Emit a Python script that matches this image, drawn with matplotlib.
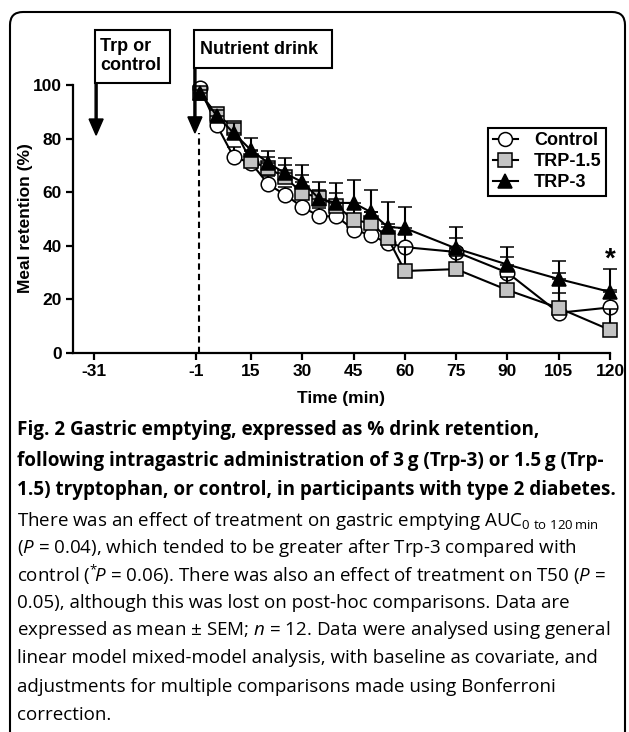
import numpy as np
import matplotlib
matplotlib.use("Agg")
import matplotlib.pyplot as plt
from matplotlib.patches import Rectangle, FancyBboxPatch
from matplotlib.lines import Line2D

plt.rcParams['font.family'] = ['Liberation Sans', 'DejaVu Sans']
plt.rcParams['axes.unicode_minus'] = False
plt.rcParams['mathtext.fontset'] = 'custom'
plt.rcParams['mathtext.rm'] = 'Open Sans'
plt.rcParams['mathtext.it'] = 'Open Sans:italic'
plt.rcParams['mathtext.bf'] = 'Open Sans:bold'

# time points (min) after the drink
time = [0, 5, 10, 15, 20, 25, 30, 35, 40, 45, 50, 55, 60, 75, 90, 105, 120]

# meal retention (%), mean
control = [99, 85, 73, 71, 63, 59, 54.5, 51, 51, 46, 44, 41, 39.5, 37.7, 30, 15, 17]
trp15 = [97, 89, 84, 71.5, 69, 65.5, 59.7, 58, 55, 49.6, 48.5, 43, 30.6, 31.3, 23.5, 16.8, 8.6]
trp3 = [97, 88.5, 82, 75.7, 71, 67, 63.8, 57.5, 56, 56, 52.6, 47, 46.6, 39, 33, 27.6, 22.8]

# SEM (upper bars only)
sem_control = [1, 1.5, 4, 3, 3, 3, 3, 3, 3, 3, 3, 3, 5, 5.3, 6, 7.4, 6.5]
sem_trp15 = [1, 2, 2, 4, 4, 4.5, 6.7, 3, 4.7, 4, 4, 5, 9, 5, 5, 13.2, 8]
sem_trp3 = [1, 2, 4, 4.5, 4.4, 5.7, 6.2, 6.3, 7.4, 8.5, 8.2, 9.3, 7.9, 8, 6.5, 6.7, 8.5]

xticks = [-31, -1, 15, 30, 45, 60, 75, 90, 105, 120]
yticks = [0, 20, 40, 60, 80, 100]

caption_bold = [
    "Fig. 2 Gastric emptying, expressed as % drink retention,",
    "following intragastric administration of 3\u2009g (Trp-3) or 1.5\u2009g (Trp-",
    "1.5) tryptophan, or control, in participants with type 2 diabetes.",
]
caption_normal = [
    r"There was an effect of treatment on gastric emptying AUC$_{\mathrm{0\ to\ 120\,min}}$",
    r"($P$ = 0.04), which tended to be greater after Trp-3 compared with",
    r"control ($^{*}\!P$ = 0.06). There was also an effect of treatment on T50 ($P$ =",
    "0.05), although this was lost on post-hoc comparisons. Data are",
    r"expressed as mean ± SEM; $n$ = 12. Data were analysed using general",
    "linear model mixed-model analysis, with baseline as covariate, and",
    "adjustments for multiple comparisons made using Bonferroni",
    "correction.",
]

fig = plt.figure(figsize=(6.29, 7.32), dpi=100)

# rounded frame around the figure panel
frame = FancyBboxPatch((0.10, -0.3), 6.15, 7.50, boxstyle="round,pad=0,rounding_size=0.13",
                       transform=fig.dpi_scale_trans, fc='none', ec='black', lw=1.5)
fig.patches.append(frame)

ax = fig.add_axes([73 / 629, 1 - 353 / 732, 537 / 629, 268 / 732])

series = [
    (control, sem_control, 'o', 'white', "Control", 3),
    (trp15, sem_trp15, 's', '#c3c3c3', "TRP-1.5", 4),
    (trp3, sem_trp3, '^', 'black', "TRP-3", 5),
]
handles = []
for vals, sem, mk, fc, lab, z in series:
    cont = ax.errorbar(time, vals, yerr=[np.zeros(len(sem)), sem], fmt='-', marker=mk,
                       color='black', mfc=fc, mec='black', mew=1.1, ms=10.5, lw=1.5,
                       elinewidth=1.5, capsize=5, capthick=1.5, zorder=z)
    for art in cont.get_children():
        art.set_clip_on(False)
    handles.append(Line2D([], [], color='black', marker=mk, mfc=fc, mec='black',
                          mew=1.1, ms=10, lw=1.5, label=lab))

ax.set_xlim(-37.06, 120)
ax.set_ylim(0, 100)
ax.set_xticks(xticks)
ax.set_yticks(yticks)
for s in ['top', 'right']:
    ax.spines[s].set_visible(False)
for s in ['left', 'bottom']:
    ax.spines[s].set_linewidth(1.6)
ax.tick_params(axis='both', width=1.6, length=5, labelsize=12.5, pad=3)
for lab in ax.get_xticklabels() + ax.get_yticklabels():
    lab.set_fontweight('bold')

# dashed line at drink time
ax.plot([-0.3, -0.3], [0, 82], color='black', lw=1.5, ls=(0, (3, 2)), zorder=1)

# annotation boxes with arrows
ax.add_patch(Rectangle((-30.6, 100.7), 21.9, 19.8, fc='white', ec='black', lw=1.5, clip_on=False))
ax.text(-29.2, 110.8, "Trp or\ncontrol", ha='left', va='center', fontsize=13,
        fontweight='bold', linespacing=1.1, clip_on=False)
ax.add_patch(Rectangle((-1.67, 106.3), 40.4, 14.2, fc='white', ec='black', lw=1.5, clip_on=False))
ax.text(0.1, 113.2, "Nutrient drink", ha='left', va='center', fontsize=13,
        fontweight='bold', clip_on=False)
ax.arrow(-30.3, 100.7, 0, 81.3 - 100.7, width=0.58, head_width=4.1, head_length=6,
         length_includes_head=True, fc='black', ec='black', clip_on=False)
ax.arrow(-1.4, 106.3, 0, 82.1 - 106.3, width=0.58, head_width=4.1, head_length=6,
         length_includes_head=True, fc='black', ec='black', clip_on=False, zorder=6)

ax.text(120, 35, "*", ha='center', va='center', fontsize=20, fontweight='bold', clip_on=False)

leg = ax.legend(handles=handles, loc='upper right', bbox_to_anchor=(0.993, 0.84),
                frameon=True, fancybox=False, edgecolor='black', framealpha=1,
                prop=dict(weight='bold', size=13), handlelength=1.4, labelspacing=0.22,
                borderpad=0.25, handletextpad=0.9, borderaxespad=0)
leg.get_frame().set_linewidth(1.5)

fig.text(26 / 629, 1 - 218 / 732, "Meal retention (%)", rotation=90, ha='center', va='center',
         fontsize=12.5, fontweight='bold')
fig.text(341 / 629, 1 - 398 / 732, "Time (min)", ha='center', va='center',
         fontsize=12.5, fontweight='bold')

# caption
cap_font = ['Open Sans', 'DejaVu Sans']
ys = [430, 461, 490]
for y, line in zip(ys, caption_bold):
    fig.text(17 / 629, 1 - y / 732, line, ha='left', va='center', fontsize=13.6,
             fontweight='bold', family=cap_font)
ys = [521, 548, 575, 603, 630, 658, 687, 715]
for y, line in zip(ys, caption_normal):
    fig.text(17 / 629, 1 - y / 732, line, ha='left', va='center', fontsize=13.5,
             family=cap_font)

fig.savefig("out.png", dpi=100)
